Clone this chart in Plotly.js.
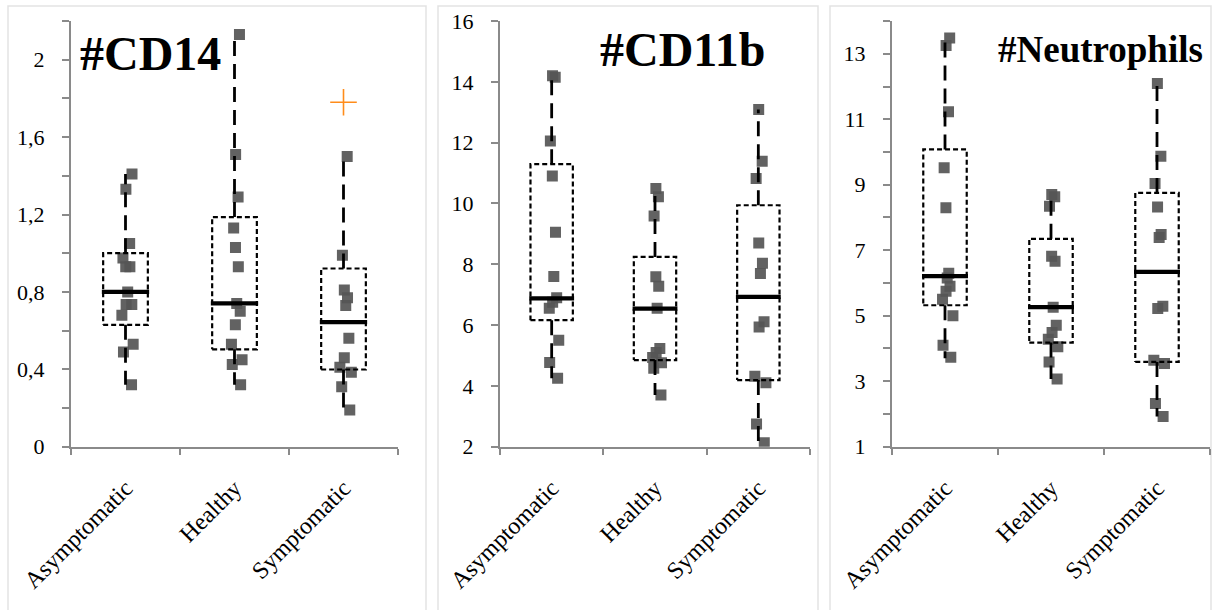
<!DOCTYPE html>
<html><head><meta charset="utf-8">
<script src="https://cdn.plot.ly/plotly-3.0.1.min.js"></script>
<style>html,body{margin:0;padding:0;background:#fff}</style>
</head><body><div id="chart" style="width:1214px;height:610px"></div>
<script>
const categories = ['Asymptomatic', 'Healthy', 'Symptomatic'];
const panelTitles = ['#CD14', '#CD11b', '#Neutrophils'];

// #CD14 values
const cd14Asymptomatic = [1.41, 1.33, 1.05, 0.975, 0.93, 0.93, 0.80, 0.735, 0.735, 0.68, 0.53, 0.49, 0.32];
const cd14Healthy = [2.13, 1.51, 1.29, 1.13, 1.03, 0.93, 0.74, 0.70, 0.63, 0.53, 0.45, 0.425, 0.32];
const cd14Symptomatic = [1.50, 0.99, 0.81, 0.77, 0.73, 0.56, 0.46, 0.41, 0.385, 0.31, 0.19];
const cd14Outliers = [null, null, 1.78];
const cd14Q1 = [0.63, 0.503, 0.399];
const cd14Median = [0.80, 0.741, 0.644];
const cd14Q3 = [1.0, 1.187, 0.921];
const cd14Low = [0.32, 0.32, 0.19];
const cd14High = [1.41, 2.13, 1.50];

// #CD11b values
const cd11bAsymptomatic = [14.2, 14.15, 12.05, 10.9, 9.05, 7.6, 6.9, 6.75, 6.55, 5.5, 4.77, 4.25];
const cd11bHealthy = [10.49, 10.22, 9.59, 7.59, 7.28, 6.55, 5.23, 5.10, 4.93, 4.76, 4.58, 3.70];
const cd11bSymptomatic = [13.09, 11.39, 10.82, 8.70, 8.03, 7.70, 6.11, 5.94, 4.32, 4.10, 2.75, 2.13];
const cd11bQ1 = [6.16, 4.85, 4.19];
const cd11bMedian = [6.88, 6.54, 6.93];
const cd11bQ3 = [11.29, 8.24, 9.94];
const cd11bLow = [4.25, 3.70, 2.11];
const cd11bHigh = [14.18, 10.49, 13.09];

// #Neutrophils values
const neutAsymptomatic = [13.48, 13.25, 11.23, 9.52, 8.30, 6.30, 6.15, 5.90, 5.75, 5.50, 5.00, 4.10, 3.73];
const neutHealthy = [8.70, 8.63, 8.34, 6.82, 6.66, 5.26, 4.71, 4.49, 4.28, 4.05, 3.59, 3.07];
const neutSymptomatic = [12.09, 9.87, 9.04, 8.32, 7.48, 7.39, 5.29, 5.22, 3.64, 3.54, 2.32, 1.92];
const neutQ1 = [5.32, 4.18, 3.59];
const neutMedian = [6.21, 5.26, 6.34];
const neutQ3 = [10.08, 7.35, 8.75];
const neutLow = [3.70, 3.07, 1.92];
const neutHigh = [13.48, 8.68, 12.10];

const panels = [
  {points: [cd14Asymptomatic, cd14Healthy, cd14Symptomatic], q1: cd14Q1, med: cd14Median, q3: cd14Q3, lo: cd14Low, hi: cd14High, outliers: cd14Outliers},
  {points: [cd11bAsymptomatic, cd11bHealthy, cd11bSymptomatic], q1: cd11bQ1, med: cd11bMedian, q3: cd11bQ3, lo: cd11bLow, hi: cd11bHigh, outliers: [null, null, null]},
  {points: [neutAsymptomatic, neutHealthy, neutSymptomatic], q1: neutQ1, med: neutMedian, q3: neutQ3, lo: neutLow, hi: neutHigh, outliers: [null, null, null]}
];

const SERIF = '"Liberation Serif"';
const HW = 0.205;
const lineTraces = [], pointTraces = [];
panels.forEach((p, k) => {
  const xa = k === 0 ? 'x' : 'x' + (k + 1);
  const ya = k === 0 ? 'y' : 'y' + (k + 1);
  categories.forEach((c, i) => {
    // whiskers
    lineTraces.push({type: 'scatter', mode: 'lines', xaxis: xa, yaxis: ya, x: [i, i], y: [p.q3[i], p.hi[i]],
      line: {color: '#000', width: 2.8, dash: '15px,8px'}, hoverinfo: 'skip', showlegend: false});
    lineTraces.push({type: 'scatter', mode: 'lines', xaxis: xa, yaxis: ya, x: [i, i], y: [p.q1[i], p.lo[i]],
      line: {color: '#000', width: 2.8, dash: '15px,8px'}, hoverinfo: 'skip', showlegend: false});
    // box
    lineTraces.push({type: 'scatter', mode: 'lines', xaxis: xa, yaxis: ya,
      x: [i - HW, i + HW, i + HW, i - HW, i - HW], y: [p.q1[i], p.q1[i], p.q3[i], p.q3[i], p.q1[i]],
      line: {color: '#000', width: 2.2, dash: '5px,3px'}, hoverinfo: 'skip', showlegend: false});
    // points
    pointTraces.push({type: 'box', xaxis: xa, yaxis: ya, y: p.points[i], x0: i, name: c,
      boxpoints: 'all', jitter: 0.45, pointpos: 0.15, width: 0.3, whiskerwidth: 0,
      line: {width: 0, color: 'rgba(0,0,0,0)'}, fillcolor: 'rgba(0,0,0,0)',
      marker: {symbol: 'square', size: 11, color: 'rgba(85,85,85,0.92)'}, showlegend: false});
    // median
    pointTraces.push({type: 'scatter', mode: 'lines', xaxis: xa, yaxis: ya,
      x: [i - HW - 0.012, i + HW + 0.012], y: [p.med[i], p.med[i]],
      line: {color: '#000', width: 4.2}, hoverinfo: 'skip', showlegend: false});
    if (p.outliers[i] !== null) {
      pointTraces.push({type: 'scatter', mode: 'markers', xaxis: xa, yaxis: ya, x: [i], y: [p.outliers[i]],
        marker: {symbol: 'cross-thin', size: 19, line: {color: '#ff8c1a', width: 1.6}}, showlegend: false});
    }
  });
});

const W = 1214, H = 610;
const yDom = [1 - 446.7 / H, 1 - 21 / H];
const tickFont = {family: SERIF, size: 22, color: '#000'};
function xAxis(d) {
  return {domain: [d[0] / W, d[1] / W], range: [-0.5, 2.5], tickmode: 'array', tickvals: [0, 1, 2], ticktext: categories,
    tickangle: -45, ticks: '', showline: true, linecolor: '#8a8a8a', linewidth: 2, showgrid: false, zeroline: false,
    tickfont: {family: SERIF, size: 24, color: '#000'}, ticklabelstandoff: 16,
    minor: {tick0: -0.5, dtick: 1, ticks: 'outside', ticklen: 6, tickwidth: 2, tickcolor: '#8a8a8a', showgrid: false},
    fixedrange: true};
}
function yAxis(r, t0, dt, minorDt) {
  const a = {domain: yDom, range: r, tick0: t0, dtick: dt, ticks: 'outside', ticklen: 7, tickwidth: 2, tickcolor: '#8a8a8a',
    showline: true, linecolor: '#8a8a8a', linewidth: 2, showgrid: false, zeroline: false, tickfont: tickFont,
    ticklabelstandoff: 13, fixedrange: true};
  if (minorDt) a.minor = {tick0: t0, dtick: minorDt, ticks: 'outside', ticklen: 7, tickwidth: 2, tickcolor: '#8a8a8a', showgrid: false};
  return a;
}

const panelBorders = [[8, 426], [438, 818], [830, 1211]];
const shapes = panelBorders.map(b => ({type: 'rect', xref: 'paper', yref: 'paper', x0: b[0] / W, x1: b[1] / W,
  y0: -0.02, y1: 1 - 6 / H, line: {color: '#e3e3e3', width: 1.5}, fillcolor: 'rgba(0,0,0,0)', layer: 'below'}));

const annotations = [
  {text: '<b>' + panelTitles[0] + '</b>', x: 150 / W, y: 1 - 53 / H, size: 48},
  {text: '<b>' + panelTitles[1] + '</b>', x: 682 / W, y: 1 - 50 / H, size: 48},
  {text: '<b>' + panelTitles[2] + '</b>', x: 1100 / W, y: 1 - 49 / H, size: 37}
].map(a => ({text: a.text, xref: 'paper', yref: 'paper', x: a.x, y: a.y, xanchor: 'center', yanchor: 'middle',
  showarrow: false, font: {family: SERIF, size: a.size, color: '#000'}}));

const layout = {
  width: W, height: H, margin: {l: 0, r: 0, t: 0, b: 0}, paper_bgcolor: '#fff', plot_bgcolor: 'rgba(0,0,0,0)',
  separators: ', ', boxmode: 'overlay', showlegend: false, font: {family: SERIF},
  xaxis: xAxis([71, 398]), xaxis2: xAxis([500, 810]), xaxis3: xAxis([892, 1210]),
  yaxis: yAxis([0, 2.2001], 0, 0.4, 0.2),
  yaxis2: yAxis([2, 16], 2, 2, null),
  yaxis3: yAxis([1, 14.001], 1, 2, 1),
  shapes: shapes, annotations: annotations
};
layout.xaxis.anchor = 'y'; layout.xaxis2.anchor = 'y2'; layout.xaxis3.anchor = 'y3';
layout.yaxis.anchor = 'x'; layout.yaxis2.anchor = 'x2'; layout.yaxis3.anchor = 'x3';

Plotly.newPlot('chart', lineTraces.concat(pointTraces), layout, {displayModeBar: false, staticPlot: true});
</script></body></html>
